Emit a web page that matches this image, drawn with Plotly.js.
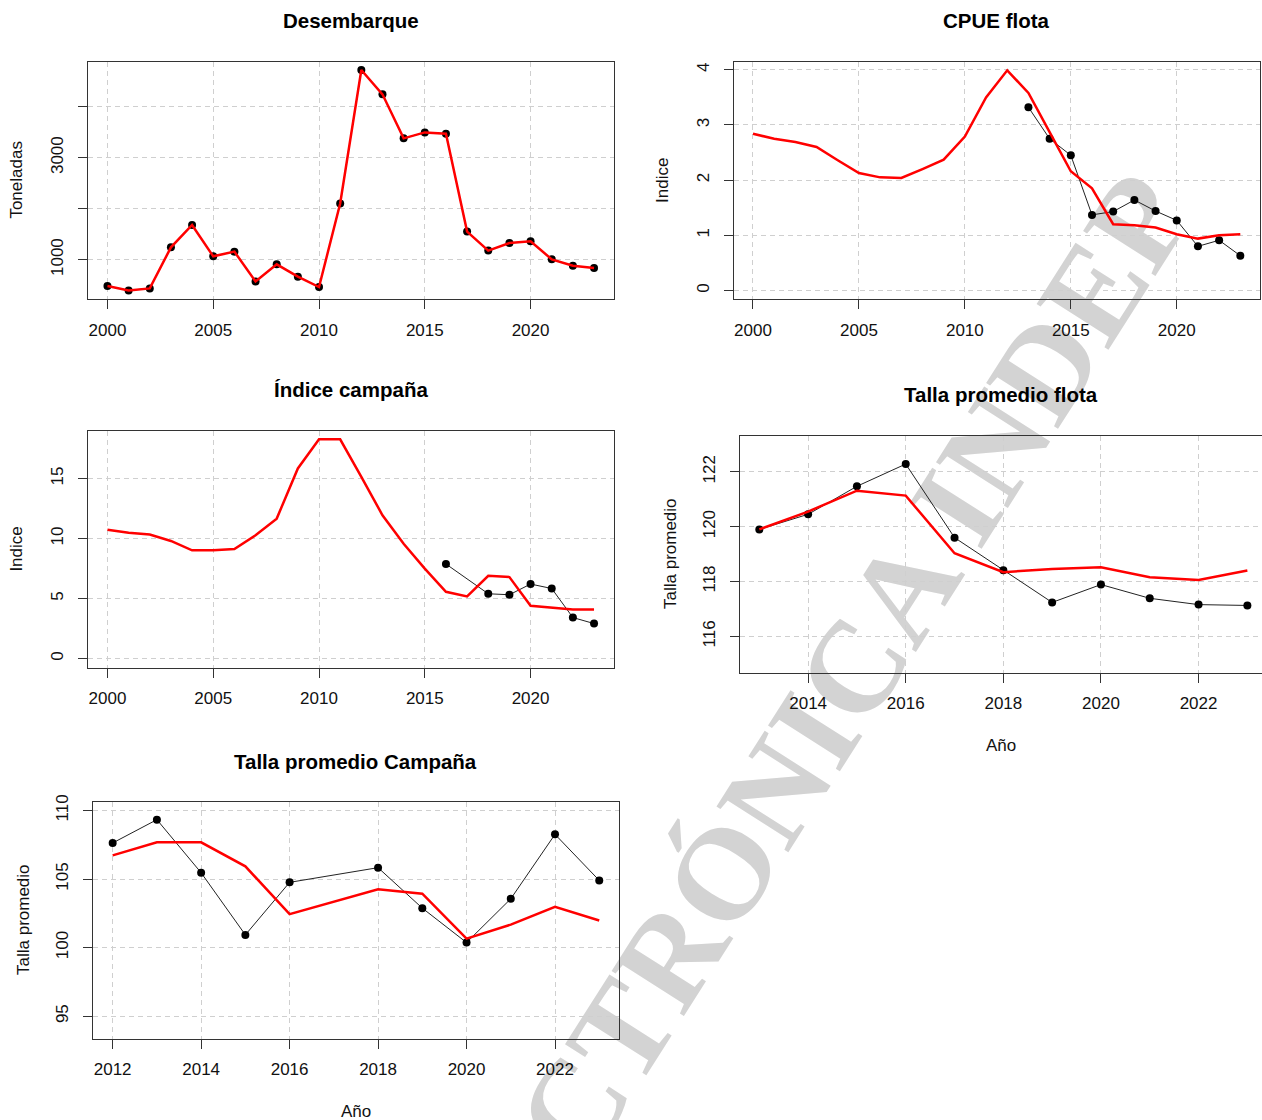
<!DOCTYPE html>
<html><head><meta charset="utf-8">
<script src="https://cdn.plot.ly/plotly-3.0.1.min.js"></script>
<style>html,body{margin:0;padding:0;background:#fff}#chart{width:1262px;height:1120px}</style>
</head><body><div id="chart"></div>
<script>
// ---------- data ----------
const yearsDes = [2000,2001,2002,2003,2004,2005,2006,2007,2008,2009,2010,2011,2012,2013,2014,2015,2016,2017,2018,2019,2020,2021,2022,2023];
const desembarque = [481,397,436,1242,1680,1065,1157,573,908,666,462,2101,4721,4243,3379,3496,3469,1550,1177,1327,1360,1006,882,835];

const yearsCpue = [2000,2001,2002,2003,2004,2005,2006,2007,2008,2009,2010,2011,2012,2013,2014,2015,2016,2017,2018,2019,2020,2021,2022,2023];
const cpueModel = [2.84,2.75,2.69,2.60,2.36,2.13,2.05,2.04,2.20,2.37,2.79,3.50,3.99,3.58,2.87,2.16,1.85,1.20,1.18,1.14,1.02,0.94,1.00,1.02];
const yearsCpueObs = [2013,2014,2015,2016,2017,2018,2019,2020,2021,2022,2023];
const cpueObs = [3.32,2.75,2.45,1.37,1.43,1.64,1.44,1.27,0.80,0.91,0.63];

const yearsCamp = [2000,2001,2002,2003,2004,2005,2006,2007,2008,2009,2010,2011,2012,2013,2014,2015,2016,2017,2018,2019,2020,2021,2022,2023];
const campModel = [10.74,10.49,10.33,9.80,9.02,9.02,9.13,10.27,11.66,15.84,18.26,18.26,15.14,11.94,9.57,7.49,5.57,5.18,6.90,6.79,4.40,4.23,4.09,4.09];
const yearsCampObs = [2016,2018,2019,2020,2021,2022,2023];
const campObs = [7.88,5.40,5.32,6.21,5.84,3.42,2.92];

const yearsTallaFlota = [2013,2014,2015,2016,2017,2018,2019,2020,2021,2022,2023];
const tallaFlotaModel = [119.90,120.55,121.31,121.13,119.03,118.34,118.46,118.52,118.16,118.06,118.40];
const tallaFlotaObs = [119.90,120.45,121.47,122.28,119.60,118.41,117.24,117.89,117.39,117.16,117.13];

const yearsTallaCamp = [2012,2013,2014,2015,2016,2017,2018,2019,2020,2021,2022,2023];
const tallaCampModel = [106.73,107.68,107.68,105.93,102.44,103.34,104.25,103.93,100.66,101.68,102.98,101.98];
const yearsTallaCampObs = [2012,2013,2014,2015,2016,2018,2019,2020,2021,2022,2023];
const tallaCampObs = [107.63,109.33,105.46,100.93,104.76,105.83,102.88,100.37,103.56,108.26,104.90];

// tick labels
const xTicks5 = [2000,2005,2010,2015,2020];
const xTicksFlota = [2014,2016,2018,2020,2022];
const xTicksCamp = [2012,2014,2016,2018,2020,2022];
const yTicksDes = [1000,2000,3000,4000];
const yTextDes = ['1000','','3000',''];
const yTicksCpue = [0,1,2,3,4];
const yTicksCamp = [0,5,10,15];
const yTicksTallaFlota = [116,118,120,122];
const yTicksTallaCamp = [95,100,105,110];

const titles = ['Desembarque','CPUE flota','Índice campaña','Talla promedio flota','Talla promedio Campaña'];
const yTitles = ['Toneladas','Indice','Indice','Talla promedio','Talla promedio'];
const xTitle = 'Año';
const watermark = 'CTRÓNICA INDEP';

// ---------- layout helpers ----------
const W = 1262, H = 1120;
const px = v => v / W;
const py = v => 1 - v / H;
const FONT = 'Liberation Sans, Arial, sans-serif';

function axis(domain, range, tickvals, ticktext, extra) {
  return Object.assign({
    domain: domain, range: range, tickmode: 'array', tickvals: tickvals,
    ticktext: ticktext || tickvals.map(String),
    showline: true, mirror: true, linecolor: '#333', linewidth: 1,
    ticks: 'outside', ticklen: 9, tickcolor: '#333', tickwidth: 1,
    showgrid: true, gridcolor: '#cfcfcf', griddash: '5px,4px', gridwidth: 1,
    zeroline: false, fixedrange: true, ticklabelstandoff: 6,
    tickfont: {family: FONT, size: 17, color: '#111'}
  }, extra || {});
}

function obsTrace(x, y, xa, ya) {
  return {x: x, y: y, xaxis: xa, yaxis: ya, type: 'scatter', mode: 'lines+markers',
    line: {color: '#222', width: 1}, marker: {color: '#000', size: 8}, hoverinfo: 'skip'};
}
function modelTrace(x, y, xa, ya) {
  return {x: x, y: y, xaxis: xa, yaxis: ya, type: 'scatter', mode: 'lines',
    line: {color: '#ff0000', width: 2.5}, hoverinfo: 'skip'};
}

const data = [
  obsTrace(yearsDes, desembarque, 'x', 'y'),
  modelTrace(yearsDes, desembarque, 'x', 'y'),
  obsTrace(yearsCpueObs, cpueObs, 'x2', 'y2'),
  modelTrace(yearsCpue, cpueModel, 'x2', 'y2'),
  obsTrace(yearsCampObs, campObs, 'x3', 'y3'),
  modelTrace(yearsCamp, campModel, 'x3', 'y3'),
  obsTrace(yearsTallaFlota, tallaFlotaObs, 'x4', 'y4'),
  modelTrace(yearsTallaFlota, tallaFlotaModel, 'x4', 'y4'),
  obsTrace(yearsTallaCampObs, tallaCampObs, 'x5', 'y5'),
  modelTrace(yearsTallaCamp, tallaCampModel, 'x5', 'y5')
];

// panel frames (pixels): [left, right, top, bottom]
const P1 = [88, 613.5, 61.5, 299.3];
const P2 = [733.5, 1259.8, 61.5, 299.3];
const P3 = [88, 613.5, 430.7, 668];
const P4 = [739.8, 1262, 435.5, 672.7];
const P5 = [93.2, 618.7, 801.7, 1038.7];
const dx = p => [px(p[0]), Math.min(1, px(p[1]))];
const dy = p => [py(p[3]), py(p[2])];

const titleFont = {family: FONT, size: 20.5, color: '#000', weight: 'bold'};
const labFont = {family: FONT, size: 17, color: '#111'};
function ann(text, x, y, font, angle) {
  return {text: text, xref: 'paper', yref: 'paper', x: px(x), y: py(y), xanchor: 'center', yanchor: 'middle',
    showarrow: false, font: font, textangle: angle || 0};
}

const yExtra = {tickangle: -90, ticklabelstandoff: 8};

const layout = {
  width: W, height: H, margin: {l: 0, r: 0, t: 0, b: 0},
  paper_bgcolor: '#ffffff', plot_bgcolor: 'rgba(0,0,0,0)', showlegend: false,
  xaxis: axis(dx(P1), [1999.08, 2023.92], xTicks5, null, {anchor: 'y'}),
  yaxis: axis(dy(P1), [222, 4887], yTicksDes, yTextDes, Object.assign({anchor: 'x'}, yExtra)),
  xaxis2: axis(dx(P2), [1999.08, 2023.92], xTicks5, null, {anchor: 'y2'}),
  yaxis2: axis(dy(P2), [-0.16, 4.15], yTicksCpue, null, Object.assign({anchor: 'x2'}, yExtra)),
  xaxis3: axis(dx(P3), [1999.08, 2023.92], xTicks5, null, {anchor: 'y3'}),
  yaxis3: axis(dy(P3), [-0.78, 18.98], yTicksCamp, null, Object.assign({anchor: 'x3'}, yExtra)),
  xaxis4: axis(dx(P4), [2012.6, 2023.3], xTicksFlota, null, {anchor: 'y4'}),
  yaxis4: axis(dy(P4), [114.68, 123.32], yTicksTallaFlota, null, Object.assign({anchor: 'x4', mirror: false}, yExtra)),
  xaxis5: axis(dx(P5), [2011.56, 2023.44], xTicksCamp, null, {anchor: 'y5'}),
  yaxis5: axis(dy(P5), [93.36, 110.64], yTicksTallaCamp, null, Object.assign({anchor: 'x5'}, yExtra)),
  annotations: [
    ann(titles[0], 350.7, 20, titleFont),
    ann(titles[1], 996.6, 20, titleFont),
    ann(titles[2], 350.7, 389, titleFont),
    ann(titles[3], 1001, 394, titleFont),
    ann(titles[4], 356, 761, titleFont),
    ann(yTitles[0], 16.6, 180, labFont, -90),
    ann(yTitles[1], 663, 180, labFont, -90),
    ann(yTitles[2], 16.6, 549, labFont, -90),
    ann(yTitles[3], 670, 554, labFont, -90),
    ann(yTitles[4], 23, 920, labFont, -90),
    ann(xTitle, 1001, 745, labFont),
    ann(xTitle, 355.6, 1111.7, labFont)
  ],
  shapes: [{
    type: 'rect', xref: 'paper', yref: 'paper', layer: 'below',
    x0: px(841), x1: px(843), y0: py(661), y1: py(659),
    line: {width: 0}, fillcolor: 'rgba(0,0,0,0)',
    label: {text: watermark, textangle: -57.5, textposition: 'middle center',
      font: {family: 'Liberation Serif, Times New Roman, serif', size: 130, color: '#d3d3d3', weight: 'bold'}}
  }]
};

Plotly.newPlot('chart', data, layout, {staticPlot: true, displayModeBar: false});
</script>
</body></html>
